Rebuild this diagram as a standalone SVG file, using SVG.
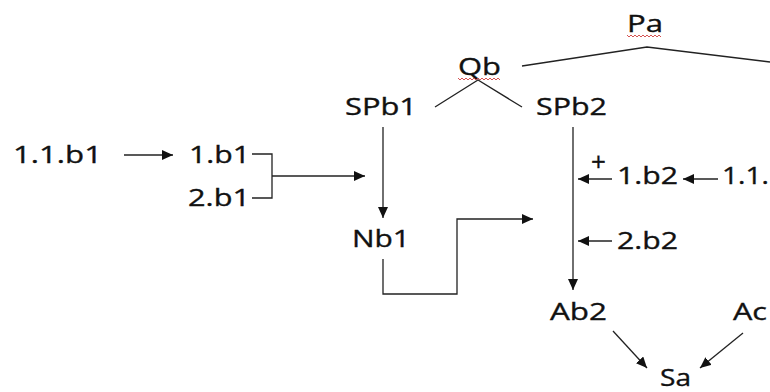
<svg xmlns="http://www.w3.org/2000/svg" width="770" height="392" viewBox="0 0 770 392">
<style>
text{font-family:"Open Sans","DejaVu Sans",sans-serif;font-size:23.5px;fill:#111;stroke:#111;stroke-width:0.35}
.l{fill:none;stroke:#222;stroke-width:1.3}
.a{fill:none;stroke:#222;stroke-width:1.3;marker-end:url(#ah)}
.w{fill:none;stroke:#d04040;stroke-width:0.9}
</style>
<defs>
<marker id="ah" markerUnits="userSpaceOnUse" markerWidth="12" markerHeight="10" refX="11" refY="5" orient="auto">
<path d="M0,0 L11,5 L0,10 Z" fill="#111"/>
</marker>
</defs>
<rect width="770" height="392" fill="#fff"/>
<g id="nodes">
<g id="Pa"><text x="627" y="32" textLength="36" lengthAdjust="spacingAndGlyphs">Pa</text><path class="w" d="M627,35 l2,2 l2,-2 l2,2 l2,-2 l2,2 l2,-2 l2,2 l2,-2 l2,2 l2,-2 l2,2 l2,-2 l2,2 l2,-2 l2,2 l2,-2 l2,2"/></g>
<g id="Qb"><text x="458" y="75" textLength="43" lengthAdjust="spacingAndGlyphs">Qb</text><path class="w" d="M458,78 l2,2 l2,-2 l2,2 l2,-2 l2,2 l2,-2 l2,2 l2,-2 l2,2 l2,-2 l2,2 l2,-2 l2,2 l2,-2 l2,2 l2,-2 l2,2 l2,-2 l2,2 l2,-2 l2,2"/></g>
<g id="SPb1"><text x="345" y="115" textLength="72" lengthAdjust="spacingAndGlyphs">SPb1</text></g>
<g id="SPb2"><text x="536" y="115" textLength="71" lengthAdjust="spacingAndGlyphs">SPb2</text></g>
<g id="n111b1"><text x="13" y="163" textLength="89" lengthAdjust="spacingAndGlyphs">1.1.b1</text></g>
<g id="n1b1"><text x="189" y="163" textLength="61" lengthAdjust="spacingAndGlyphs">1.b1</text></g>
<g id="n2b1"><text x="188" y="206" textLength="62" lengthAdjust="spacingAndGlyphs">2.b1</text></g>
<g id="Nb1"><text x="352" y="247" textLength="58" lengthAdjust="spacingAndGlyphs">Nb1</text></g>
<g id="plus"><text x="591" y="171" style="font-size:26px">+</text></g>
<g id="n1b2"><text x="617" y="184" textLength="61" lengthAdjust="spacingAndGlyphs">1.b2</text></g>
<g id="n11b2"><text x="722" y="184" textLength="47" lengthAdjust="spacingAndGlyphs">1.1.</text></g>
<g id="n2b2"><text x="617" y="249" textLength="61" lengthAdjust="spacingAndGlyphs">2.b2</text></g>
<g id="Ab2"><text x="550" y="320" textLength="57" lengthAdjust="spacingAndGlyphs">Ab2</text></g>
<g id="Ac"><text x="733" y="320" textLength="34" lengthAdjust="spacingAndGlyphs">Ac</text></g>
<g id="Sa"><text x="660" y="386" textLength="31" lengthAdjust="spacingAndGlyphs">Sa</text></g>
</g>
<g id="connectors">
<path class="l" d="M522,66 L647,47 L770,62"/>
<path class="l" d="M435,107 L478,80 L522,107"/>
<path class="a" d="M383,127 L383,218"/>
<path class="a" d="M573,127 L573,290"/>
<path class="a" d="M124,155 L173,155"/>
<path class="l" d="M252,154 L272,154 L272,198 L252,198"/>
<path class="a" d="M272,176 L365,176"/>
<path class="a" d="M383,259 L383,294 L457,294 L457,219 L533,219"/>
<path class="a" d="M612,179 L578,179"/>
<path class="a" d="M718,179 L683,179"/>
<path class="a" d="M612,241 L578,241"/>
<path class="a" d="M613,331 L647,368"/>
<path class="a" d="M743,333 L700,368"/>
</g>
</svg>
